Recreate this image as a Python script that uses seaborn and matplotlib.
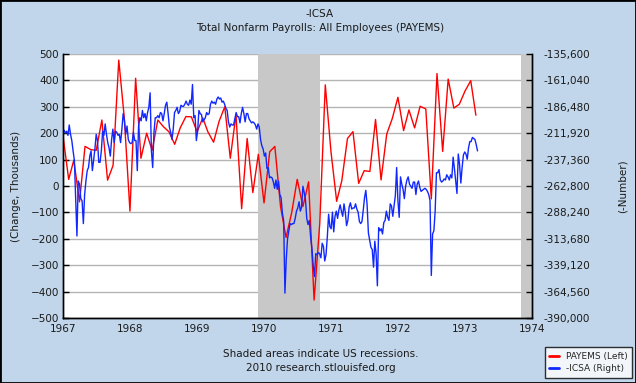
"""
FRED-style dual axis chart: PAYEMS monthly change (left) vs -ICSA weekly (right).
Saves out.png (636x383).
"""
import matplotlib
matplotlib.use("Agg")
import matplotlib.dates as mdates
import matplotlib.pyplot as plt
import numpy as np
import pandas as pd
import seaborn as sns
from matplotlib.lines import Line2D
from matplotlib.patches import Rectangle
from matplotlib.ticker import FuncFormatter

# PAYEMS: monthly change, thousands, Jan 1967 - Mar 1973
payems_start = "1967-01-01"
payems_change = [
    190, 25, 98, -60, 150, 138, 135, 250, 22, 78,
    477, 260, -95, 408, 105, 200, 135, 250, 225, 205,
    158, 220, 263, 262, 205, 258, 205, 166, 245, 300,
    105, 270, -86, 180, -25, 120, -64, 130, 150, -78,
    -195, -100, 25, -78, 16, -432, -140, 383, 130, -58,
    20, 180, 206, 10, 58, 55, 252, 23, 197, 255,
    336, 210, 288, 220, 302, 292, -49, 426, 131, 405,
    295, 310, 360, 399, 268,
]

# ICSA: weekly initial claims, thousands (plotted negated), from 1967-01-07
icsa_start = "1967-01-07"
icsa_claims_k = [
    209, 212, 210, 214, 204, 213, 219, 229, 238, 275,
    311, 258, 261, 275, 277, 299, 271, 258, 248, 245,
    234, 229, 248, 238, 227, 213, 219, 240, 240, 229,
    210, 214, 203, 213, 221, 226, 234, 218, 208, 221,
    210, 211, 214, 213, 221, 208, 193, 200, 213, 205,
    218, 221, 222, 221, 211, 219, 219, 248, 205, 197,
    200, 190, 197, 193, 200, 192, 187, 173, 229, 245,
    211, 197, 197, 195, 197, 192, 193, 200, 193, 185,
    182, 193, 206,
    211, 218, 208, 192, 190, 187, 193, 191, 185, 186,
    186, 184, 181, 184, 185, 180, 184, 165, 197, 195,
    219, 210, 190, 193, 194, 201, 199, 197, 192, 194,
    193, 184, 181, 183, 182, 184, 179, 177, 179, 178,
    182, 181, 184, 188, 190, 201, 206, 203, 204, 204,
    198, 192, 196, 196, 202, 193, 187, 193, 201, 193,
    193, 198, 200, 202, 201, 202, 204, 208, 203, 206,
    218, 224,
    227, 234, 231, 246, 245, 255, 254, 255, 259, 265,
    257, 266, 258, 271, 274, 289, 296, 366, 334, 314,
    306, 299, 300, 299, 299, 294, 287, 284, 278, 287,
    283, 263, 269, 276, 294, 300, 296, 312, 323, 339,
    350, 328, 329, 327, 328, 332, 318, 321, 335, 329,
    312, 290, 302, 304, 288, 307, 292, 287, 294, 286,
    281, 287, 292, 280, 288, 301, 296, 283, 279, 285,
    284, 284, 280, 285, 288, 297, 299, 297, 286, 274,
    267, 281, 308, 315,
    322, 324, 341, 316, 328, 359, 303, 306, 304, 309,
    298, 296, 287, 293, 296, 280, 282, 292, 282, 272,
    245, 277, 293, 254, 261, 266, 275, 263, 257, 254,
    261, 263, 265, 259, 259, 271, 261, 258, 264, 268,
    267, 266, 265, 266, 268, 271, 277, 349, 309, 306,
    287, 250, 250, 247, 257, 259, 258, 256, 257, 252,
    254, 257, 252, 255, 235, 246, 258, 270, 232, 242,
    260, 245, 233, 230, 232, 237, 226, 220, 220, 216,
    217, 218, 223, 229,
]

recessions = [("1969-12-01", "1970-11-01"), ("1973-11-01", "1974-01-01")]
x_range = ("1967-01-01", "1974-01-01")
left_limits = (-500, 500)
right_limits = (-390000, -135600)
n_ticks = 11

BG = "#C1D6EA"
TEXT = "#1a1a1a"


def main():
    sns.set_style("white")
    plt.rcParams["font.family"] = ["DejaVu Sans"]

    payems = pd.DataFrame({
        "date": pd.date_range(payems_start, periods=len(payems_change), freq="MS"),
        "value": payems_change,
    })
    icsa = pd.DataFrame({
        "date": pd.date_range(icsa_start, periods=len(icsa_claims_k), freq="7D"),
        "value": [-1000 * v for v in icsa_claims_k],
    })

    fig = plt.figure(figsize=(6.36, 3.83), dpi=100, facecolor=BG)
    ax = fig.add_axes([63 / 636, 1 - 318 / 383, (532 - 63) / 636, (318 - 54) / 383])
    ax.set_facecolor("white")
    ax2 = ax.twinx()

    for start, end in recessions:
        ax.axvspan(pd.Timestamp(start), pd.Timestamp(end), color="#C8C8C8", lw=0, zorder=1)
    ax.yaxis.grid(True, color="#B4B4B4", lw=1)
    ax.set_axisbelow(True)

    sns.lineplot(data=payems, x="date", y="value", ax=ax, color="#FF0000", lw=1, zorder=3)
    sns.lineplot(data=icsa, x="date", y="value", ax=ax2, color="#1028FF", lw=1)

    ax.set_xlim(pd.Timestamp(x_range[0]), pd.Timestamp(x_range[1]))
    ax.xaxis.set_major_locator(mdates.YearLocator())
    ax.xaxis.set_major_formatter(mdates.DateFormatter("%Y"))
    ax.set_ylim(*left_limits)
    ax.set_yticks(np.linspace(*left_limits, n_ticks))
    ax2.set_ylim(*right_limits)
    ax2.set_yticks(np.linspace(*right_limits, n_ticks))
    ax2.yaxis.set_major_formatter(FuncFormatter(lambda v, _: f"{v:,.0f}"))

    for a in (ax, ax2):
        a.set_xlabel("")
        a.set_ylabel("")
        for side, sp in a.spines.items():
            sp.set_color("black")
            sp.set_linewidth(1)
        a.spines["top"].set_visible(False)

    ax.tick_params(axis="both", direction="in", length=4, width=1,
                   labelsize=7.5, labelcolor=TEXT, color="black")
    ax.tick_params(axis="x", pad=4)
    ax.tick_params(axis="y", pad=3)
    ax2.tick_params(axis="y", direction="in", length=4, width=1, pad=8,
                    labelsize=7.5, labelcolor=TEXT, color="black")

    # titles and axis labels
    fig.text(0.503, 1 - 14 / 383, "-ICSA", ha="center", va="center", fontsize=7.5, color=TEXT)
    fig.text(0.503, 1 - 28 / 383, "Total Nonfarm Payrolls: All Employees (PAYEMS)",
             ha="center", va="center", fontsize=7.5, color=TEXT)
    fig.text(16 / 636, 1 - 186 / 383, "(Change, Thousands)", rotation=90,
             ha="center", va="center", fontsize=7.5, color=TEXT)
    fig.text(623 / 636, 1 - 186 / 383, "(-Number)", rotation=90,
             ha="center", va="center", fontsize=7.5, color=TEXT)
    fig.text(321 / 636, 1 - 354 / 383, "Shaded areas indicate US recessions.",
             ha="center", va="center", fontsize=7.5, color=TEXT)
    fig.text(321 / 636, 1 - 368 / 383, "2010 research.stlouisfed.org",
             ha="center", va="center", fontsize=7.5, color=TEXT)

    handles = [Line2D([], [], color="#FF0000", lw=2),
               Line2D([], [], color="#1028FF", lw=2)]
    leg = fig.legend(handles, ["PAYEMS (Left)", "-ICSA (Right)"],
                     loc="lower right", bbox_to_anchor=(632 / 636, 1 - 378 / 383),
                     fontsize=6.5, frameon=True, fancybox=False, edgecolor="black",
                     handlelength=1.0, handletextpad=0.8, borderpad=0.5,
                     labelspacing=0.4, borderaxespad=0)
    leg.get_frame().set_linewidth(1)

    fig.add_artist(Rectangle((0, 0), 1, 1, transform=fig.transFigure,
                             fill=False, ec="black", lw=2))

    fig.savefig("out.png", dpi=100, facecolor=fig.get_facecolor())
    plt.close(fig)


if __name__ == "__main__":
    main()
